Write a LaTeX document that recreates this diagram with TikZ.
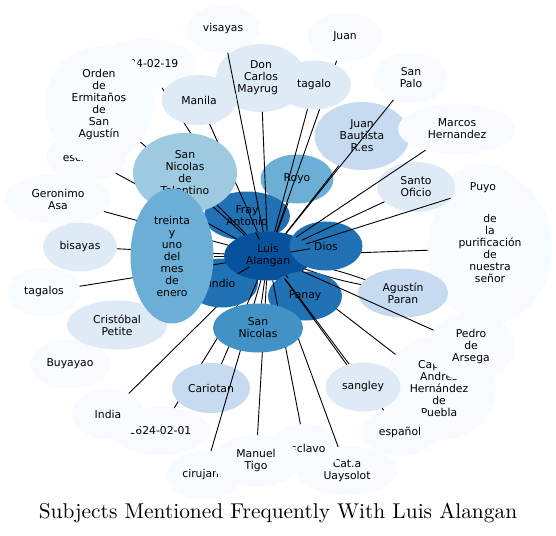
\documentclass[tikz,border=0pt]{standalone}
\usepackage{fontspec}
\newfontfamily\lblfont{DejaVu Sans}
\newfontfamily\titlefont{lmroman10-regular.otf}
\usetikzlibrary{shapes.geometric}
\definecolor{c0}{HTML}{F7FBFF}
\definecolor{c1}{HTML}{DEEBF7}
\definecolor{c2}{HTML}{C6DBEF}
\definecolor{c3}{HTML}{9ECAE1}
\definecolor{c4}{HTML}{6BAED6}
\definecolor{c5}{HTML}{4292C6}
\definecolor{c6}{HTML}{2171B5}
\definecolor{c7}{HTML}{08519C}
\newcommand\nodedef[5]{%
  \tikzset{sz#1/.style={minimum width=#4pt,minimum height=#5pt}}%
  \node[inv,sz#1] (#1) at (#2,#3) {};}
\newcommand\nodeshow[3]{%
  \node[ellipse,fill=#2,draw=none,inner sep=0pt,outer sep=0pt,sz#1] at (#1.center) {};%
  \node[lbl] at (#1.center) {#3};}
\newcommand\lnk[1]{\draw[edgeline] (luis) -- (#1);}
\begin{document}
\begin{tikzpicture}[x=1pt,y=-1pt,
  inv/.style={ellipse,draw=none,fill=none,inner sep=0pt,outer sep=0pt},
  lbl/.style={font=\lblfont\fontsize{10.8}{12}\selectfont,align=center,inner sep=0pt,text=black},
  edgeline/.style={draw=black,line width=0.9pt}]
\useasboundingbox (0,0) rectangle (556,535);
% geometry of every node
\nodedef{d19}{147}{64}{100}{50}
\nodedef{es}{86}{157}{80}{48}
\nodedef{orden}{99}{105}{108}{116}
\nodedef{visayas}{223}{29}{73}{48}
\nodedef{juan}{345}{37}{74}{49}
\nodedef{sanpalo}{411}{78}{73}{50}
\nodedef{marcos}{457}{129}{118}{50}
\nodedef{jb}{362}{136}{95}{68}
\nodedef{doncarlos}{261}{78}{90}{68}
\nodedef{tagalo}{314}{85}{74}{49}
\nodedef{manila}{199}{100}{75}{50}
\nodedef{tolentino}{185}{173}{104}{80}
\nodedef{geronimo}{58}{199}{106}{50}
\nodedef{bisayas}{80}{247}{74}{49}
\nodedef{tagalos}{44}{292}{73}{49}
\nodedef{treinta}{172}{256}{83}{135}
\nodedef{cristobal}{117}{325}{100}{49}
\nodedef{buyayao}{70}{364}{80}{49}
\nodedef{india}{108}{414}{73}{50}
\nodedef{dzero}{160}{431}{99}{48}
\nodedef{cariotan}{211}{388}{78}{50}
\nodedef{cirujano}{204}{475}{74}{49}
\nodedef{manuel}{256}{461}{88}{52}
\nodedef{esclavo}{305}{448}{72}{48}
\nodedef{cata}{347}{471}{100}{49}
\nodedef{sangley}{363}{387}{75}{49}
\nodedef{espanol}{400}{432}{76}{48}
\nodedef{capt}{439}{388}{114}{104}
\nodedef{pedro}{471}{347}{86}{68}
\nodedef{agustin}{403}{293}{90}{49}
\nodedef{purif}{490}{248}{124}{150}
\nodedef{puyo}{483}{188}{72}{48}
\nodedef{santo}{416}{187}{78}{50}
\nodedef{royo}{297}{179}{73}{49}
\nodedef{fray}{247}{216}{86}{49}
\nodedef{luis}{268}{256}{88}{49}
\nodedef{dios}{326}{246}{73}{49}
\nodedef{indio}{222}{283}{72}{49}
\nodedef{panay}{305}{296}{74}{49}
\nodedef{sannicolas}{258}{328}{90}{49}
% phase A: outer nodes
\nodeshow{d19}{c0}{1624-02-19}
\nodeshow{es}{c0}{esclavos}
\nodeshow{orden}{c0}{Orden\\de\\Ermitaños\\de\\San\\Agustín}
\nodeshow{visayas}{c0}{visayas}
\nodeshow{juan}{c0}{Juan}
\nodeshow{sanpalo}{c0}{San\\Palo}
\nodeshow{geronimo}{c0}{Geronimo\\Asa}
\nodeshow{bisayas}{c1}{bisayas}
\nodeshow{tagalos}{c0}{tagalos}
\nodeshow{buyayao}{c0}{Buyayao}
\lnk{buyayao}
\nodeshow{cristobal}{c1}{Cristóbal\\Petite}
\nodeshow{dzero}{c0}{1624-02-01}
\nodeshow{india}{c0}{India}
\nodeshow{cirujano}{c0}{cirujano}
\nodeshow{cata}{c0}{Cat.a\\Uaysolot}
\nodeshow{esclavo}{c0}{esclavo}
\nodeshow{manuel}{c0}{Manuel\\Tigo}
\nodeshow{capt}{c0}{Capitan\\Andres\\Hernández\\de\\Puebla}
\nodeshow{pedro}{c0}{Pedro\\de\\Arsega}
\nodeshow{espanol}{c0}{español}
\nodeshow{purif}{c0}{de\\la\\purificación\\de\\nuestra\\señor}
\nodeshow{puyo}{c0}{Puyo}
\nodeshow{santo}{c1}{Santo\\Oficio}
\nodeshow{agustin}{c2}{Agustín\\Paran}
\nodeshow{jb}{c2}{Juan\\Bautista\\R.es}
\nodeshow{marcos}{c0}{Marcos\\Hernandez}
\nodeshow{doncarlos}{c1}{Don\\Carlos\\Mayruga}
% phase B: connectors hidden under inner nodes
\lnk{d19}
\lnk{cristobal}
\lnk{india}
\lnk{dzero}
\lnk{capt}
\lnk{cata}
\draw[edgeline] (luis) to[bend left=4] (agustin);
\draw[edgeline] (luis) to[bend right=4] (agustin);
\lnk{purif}
% phase C: inner nodes
\nodeshow{royo}{c4}{Royo}
\nodeshow{fray}{c6}{Fray\\Antonio}
\nodeshow{indio}{c6}{Indio}
\nodeshow{luis}{c7}{Luis\\Alangan}
\nodeshow{cariotan}{c2}{Cariotan}
\nodeshow{dios}{c6}{Dios}
\nodeshow{panay}{c6}{Panay}
% phase E: connectors over inner nodes
\lnk{visayas}
\lnk{doncarlos}
\lnk{tagalo}
\lnk{juan}
\lnk{sanpalo}
\lnk{marcos}
\lnk{santo}
\lnk{puyo}
\lnk{jb}
\lnk{royo}
\lnk{fray}
\lnk{manila}
\lnk{tolentino}
\lnk{orden}
\lnk{es}
\lnk{geronimo}
\lnk{bisayas}
\lnk{tagalos}
\lnk{pedro}
\lnk{sangley}
\lnk{espanol}
\lnk{esclavo}
\lnk{cariotan}
\lnk{cirujano}
\lnk{manuel}
\lnk{sannicolas}
\lnk{indio}
\lnk{panay}
\lnk{dios}
\lnk{treinta}
% phase F: nodes on top
\nodeshow{tagalo}{c1}{tagalo}
\nodeshow{manila}{c1}{Manila}
\nodeshow{tolentino}{c3}{San\\Nicolas\\de\\Tolentino}
\nodeshow{treinta}{c4}{treinta\\y\\uno\\del\\mes\\de\\enero}
\nodeshow{sannicolas}{c5}{San\\Nicolas}
\nodeshow{sangley}{c1}{sangley}
% title
\node[anchor=base,font=\titlefont\fontsize{21.4}{25}\selectfont,inner sep=0pt] (title) at (278,518) {Subjects Mentioned Frequently With Luis Alangan};
\end{tikzpicture}
\end{document}
